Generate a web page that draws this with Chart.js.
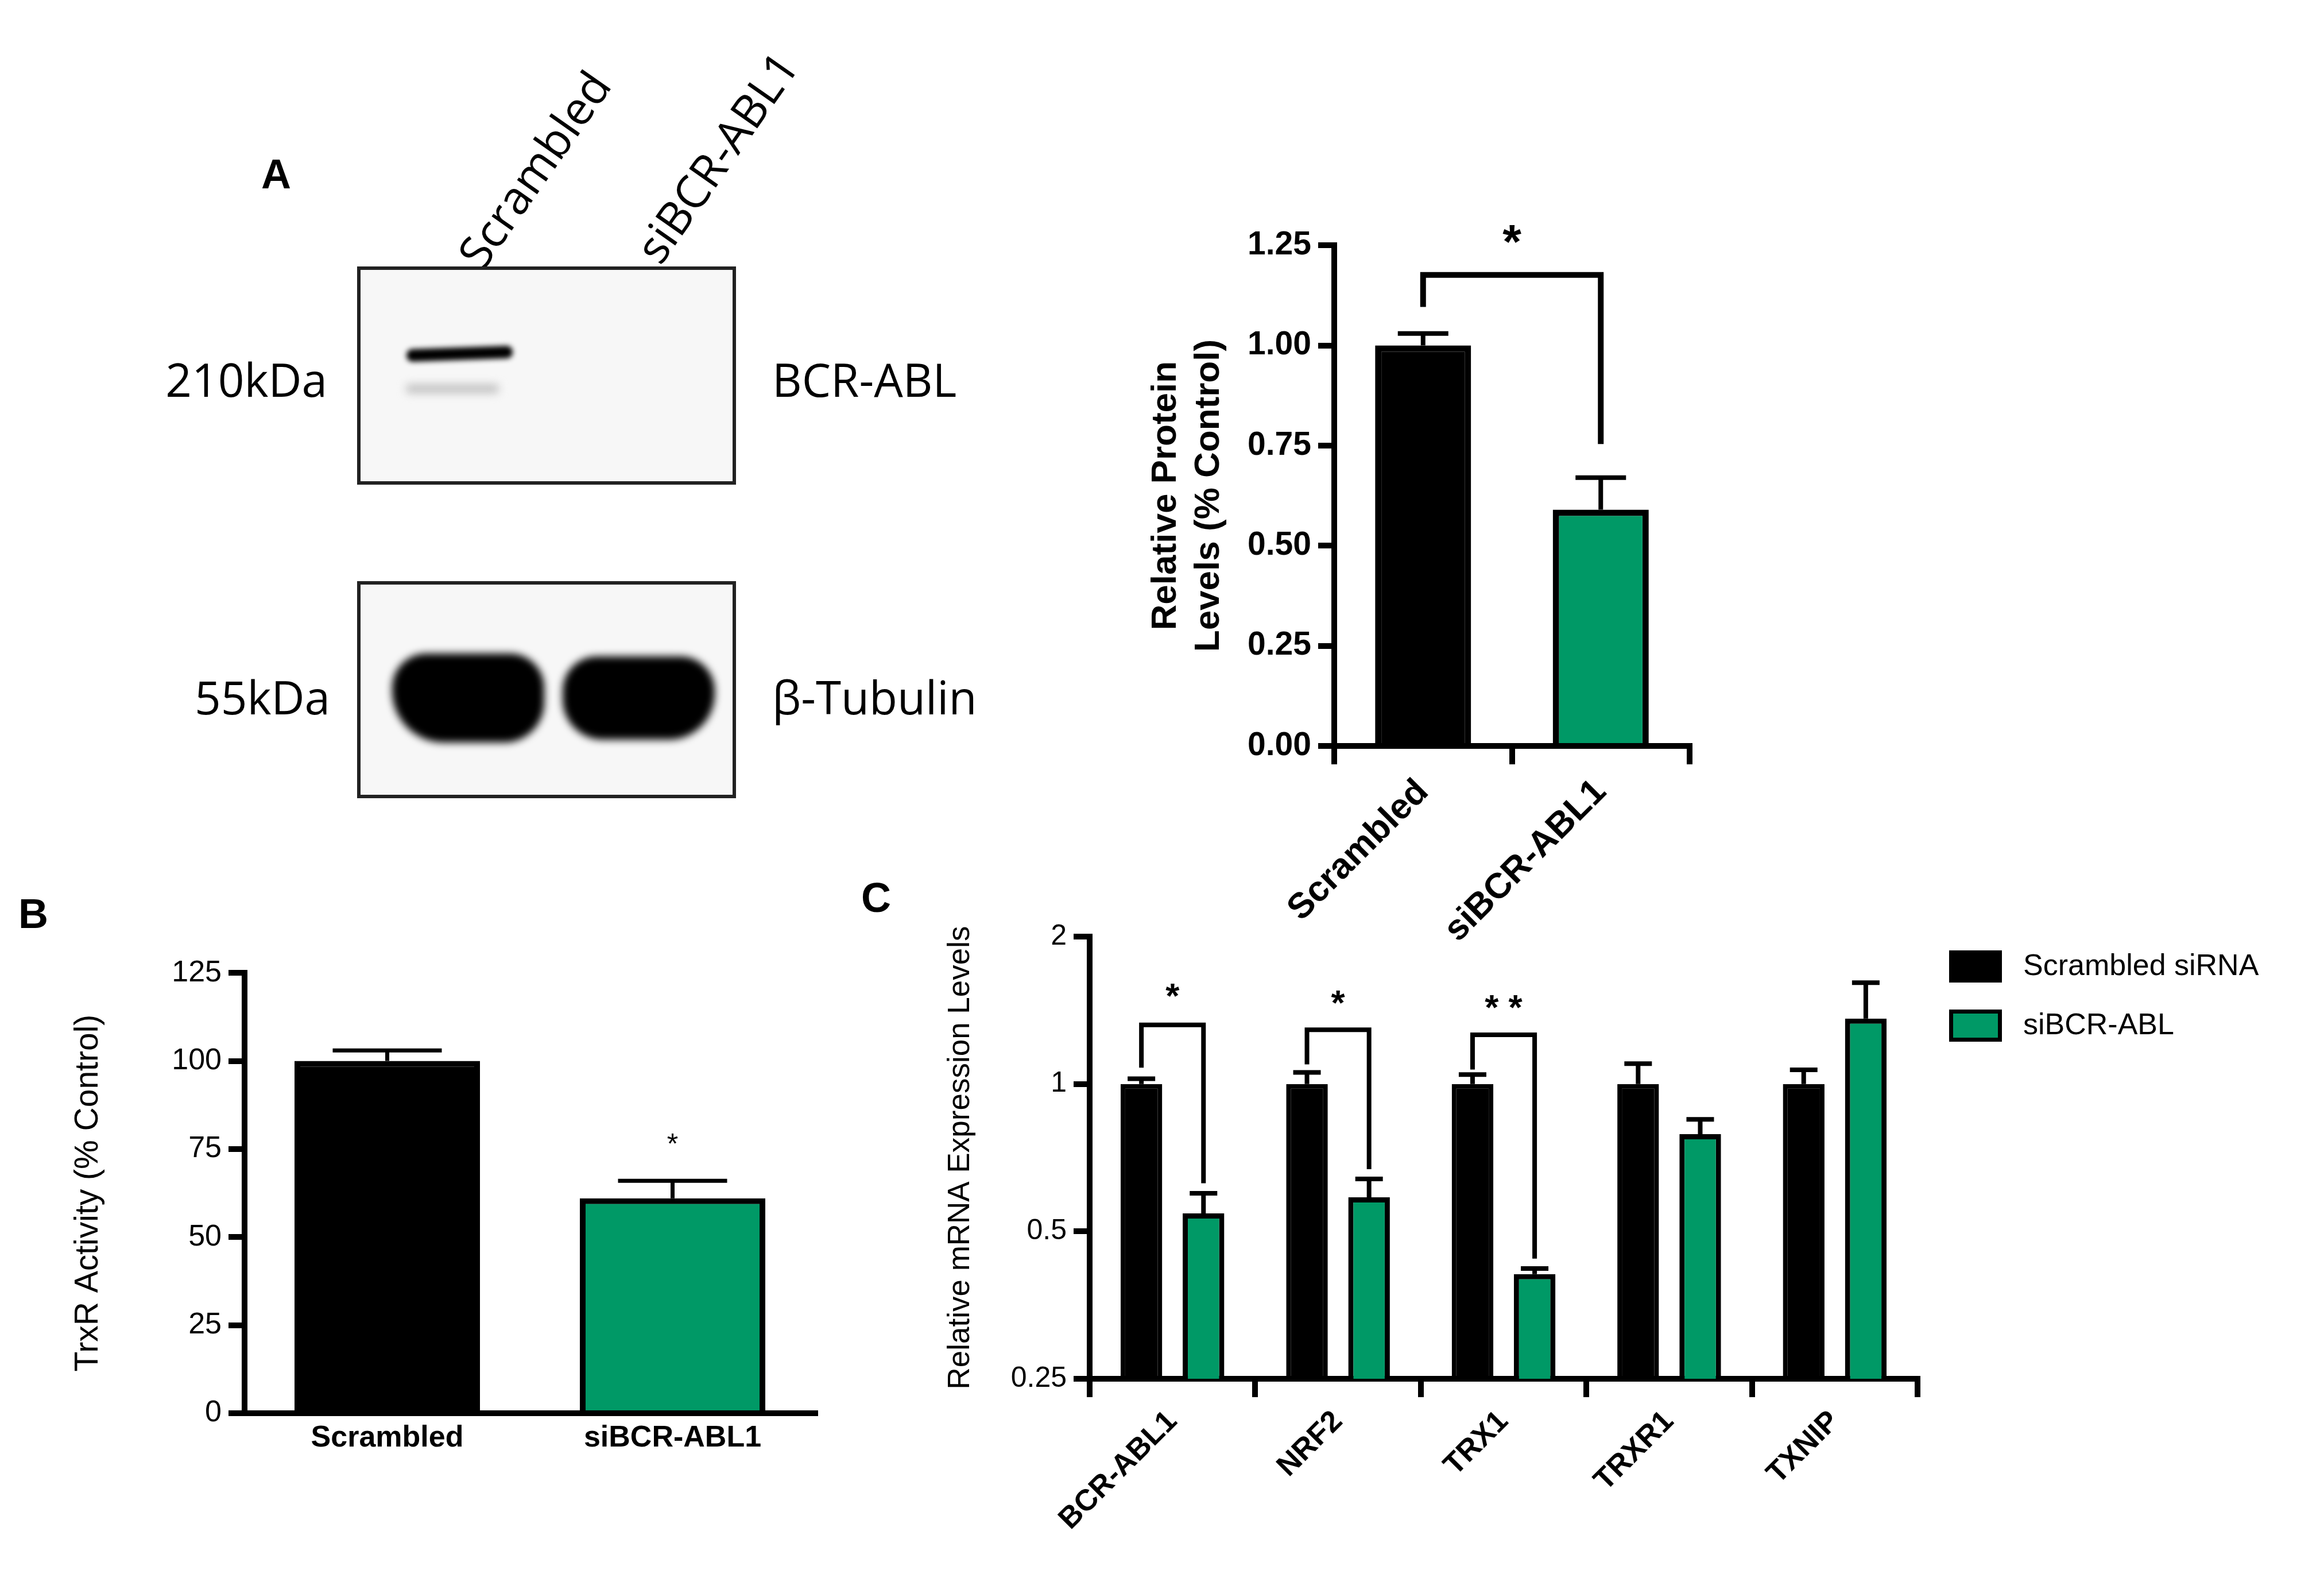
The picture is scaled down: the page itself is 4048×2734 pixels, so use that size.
<!DOCTYPE html>
<html><head><meta charset="utf-8">
<script src="https://cdn.jsdelivr.net/npm/chart.js@4.4.0/dist/chart.umd.min.js"></script>
<style>
body{margin:0;background:#fff;width:4048px;height:2734px;position:relative;overflow:hidden;font-family:"Liberation Sans",Arial,sans-serif}
.abs{position:absolute}
.lbl{position:absolute;font-family:"Open Sans","Noto Sans",sans-serif;font-size:80px;color:#000;white-space:nowrap}
.letter{position:absolute;font-family:"Liberation Sans";font-weight:bold;font-size:72px}
.box{position:absolute;border:6px solid #222;background:#f7f7f7;overflow:hidden}
.blur{position:absolute;background:#000;filter:blur(5px)}
.leg{position:absolute;font-size:52px;font-family:"Liberation Sans"}
.sw{position:absolute;width:78px;height:42px;border:7px solid #000}
</style></head><body>
<div class="letter" style="left:455px;top:262px">A</div>
<div class="letter" style="left:32px;top:1550px">B</div>
<div class="letter" style="left:1500px;top:1522px">C</div>
<div class="lbl" style="left:770px;top:425px;transform:rotate(-55deg);transform-origin:0 0;">Scrambled</div>
<div class="lbl" style="left:1080px;top:415px;transform:rotate(-55deg);transform-origin:0 0;">siBCR-ABL1</div>
<div class="lbl" style="right:3478px;top:605px">210kDa</div>
<div class="lbl" style="left:1345px;top:605px">BCR-ABL</div>
<div class="lbl" style="right:3473px;top:1158px">55kDa</div>
<div class="lbl" style="left:1345px;top:1158px">β-Tubulin</div>
<div class="box" style="left:622px;top:464px;width:648px;height:368px">
  <div class="blur" style="left:80px;top:135px;width:185px;height:22px;border-radius:10px;transform:rotate(-2deg)"></div>
  <div class="blur" style="left:80px;top:200px;width:160px;height:14px;background:#bbb;filter:blur(8px)"></div>
</div>
<div class="box" style="left:622px;top:1012px;width:648px;height:366px">
  <div class="blur" style="left:55px;top:120px;width:265px;height:155px;border-radius:60px 60px 70px 90px;filter:blur(7px)"></div>
  <div class="blur" style="left:352px;top:125px;width:265px;height:145px;border-radius:60px 60px 80px 70px;filter:blur(7px)"></div>
</div>
<div class="abs" style="left:1990px;top:381px;width:973px;height:1258px"><canvas id="cA"></canvas></div>
<div class="abs" style="left:116px;top:1651px;width:1324px;height:920px"><canvas id="cB"></canvas></div>
<div class="abs" style="left:1638px;top:1589px;width:1722px;height:1112px"><canvas id="cC"></canvas></div>
<div class="sw" style="left:3395px;top:1655px;background:#000"></div>
<div class="leg" style="left:3524px;top:1650px">Scrambled siRNA</div>
<div class="sw" style="left:3395px;top:1758px;background:#009966"></div>
<div class="leg" style="left:3524px;top:1753px">siBCR-ABL</div>
<script>
const catA=['Scrambled','siBCR-ABL1'];
const valA=[1.00,0.59];
const errA=[0.03,0.08];
const catB=['Scrambled','siBCR-ABL1'];
const valB=[100,61];
const errB=[3,5];
const genes=['BCR-ABL1','NRF2','TRX1','TRXR1','TXNIP'];
const scr=[1,1,1,1,1];
const scrErr=[0.025,0.056,0.045,0.10,0.069];
const si=[0.544,0.587,0.409,0.79,1.36];
const siErr=[0.054,0.053,0.011,0.057,0.25];
const ticksA=[0,0.25,0.5,0.75,1.0,1.25];
const ticksC=[0.25,0.5,1,2];
const GREEN='#009966';
Chart.defaults.font.family='"Liberation Sans", Arial, sans-serif';
Chart.defaults.color='#000';

const errPlugin={id:'errbars',afterDatasetsDraw(ch,a,o){
  const ctx=ch.ctx;const ys=ch.scales.y;
  ch.data.datasets.forEach((ds,di)=>{
    const meta=ch.getDatasetMeta(di);
    meta.data.forEach((el,i)=>{
      const v=ds.data[i], e=ds.errors[i];
      const yTop=el.y, yE=ys.getPixelForValue(v+e);
      ctx.save();ctx.strokeStyle='#000';ctx.lineWidth=o.lw;
      ctx.beginPath();ctx.moveTo(el.x,yTop);ctx.lineTo(el.x,yE);
      ctx.moveTo(el.x-o.cap,yE);ctx.lineTo(el.x+o.cap,yE);ctx.stroke();ctx.restore();
    });
  });
}};
const sigPlugin={id:'sig',afterDatasetsDraw(ch,a,o){
  const ctx=ch.ctx;const ys=ch.scales.y;
  (o.items||[]).forEach(it=>{
    const xa=ch.getDatasetMeta(it.a[0]).data[it.a[1]].x;
    const xb=ch.getDatasetMeta(it.b[0]).data[it.b[1]].x;
    ctx.save();ctx.strokeStyle='#000';ctx.lineWidth=o.lw;
    if(it.yt!=null){
      ctx.beginPath();ctx.moveTo(xa,ys.getPixelForValue(it.yl));ctx.lineTo(xa,ys.getPixelForValue(it.yt));
      ctx.lineTo(xb,ys.getPixelForValue(it.yt));ctx.lineTo(xb,ys.getPixelForValue(it.yr));ctx.stroke();
    }
    ctx.fillStyle='#000';ctx.font=o.font;ctx.textAlign='center';ctx.textBaseline='middle';
    ctx.fillText(it.text,(xa+xb)/2,ys.getPixelForValue(it.ty));
    ctx.restore();
  });
}};
function xAxis(fontSize,bold,h,ticks,rot){
  return {type:'category',offset:true,
    grid:{display:true,drawOnChartArea:false,drawTicks:ticks,tickLength:ticks?32:0,color:'#000',lineWidth:10},
    border:{color:'#000',width:10},
    ticks:{font:{size:fontSize,weight:bold?'bold':'normal'},maxRotation:rot,minRotation:rot,padding:12,color:'#000'},
    afterFit(s){s.height=h;}};
}
function yGrid(){return {display:true,drawOnChartArea:false,drawTicks:true,tickLength:28,color:'#000',lineWidth:10};}

new Chart(document.getElementById('cA'),{type:'bar',
  data:{labels:catA,datasets:[{data:valA,errors:errA,backgroundColor:['#000',GREEN],borderColor:'#000',borderWidth:11,barPercentage:0.54,categoryPercentage:1}]},
  options:{responsive:true,maintainAspectRatio:false,animation:false,devicePixelRatio:1,
    layout:{padding:{top:40,right:20}},
    plugins:{legend:{display:false},tooltip:{enabled:false},
      errbars:{lw:8,cap:44},
      sig:{lw:10,font:'bold 84px "Liberation Sans"',items:[{a:[0,0],b:[0,1],yl:1.096,yt:1.176,yr:0.754,text:'*',ty:1.25}]}},
    scales:{x:xAxis(62,true,340,true,45),
      y:{min:0,max:1.25,grid:yGrid(),border:{color:'#000',width:10},
        afterBuildTicks(s){s.ticks=ticksA.map(v=>({value:v}));},
        ticks:{font:{size:57,weight:'bold'},padding:12,callback:v=>Number(v).toFixed(2)},
        title:{display:true,text:['Relative Protein','Levels (% Control)'],font:{size:62,weight:'bold'},padding:{bottom:6}},
        afterFit(s){s.width=334;}}}},
  plugins:[errPlugin,sigPlugin]});

new Chart(document.getElementById('cB'),{type:'bar',
  data:{labels:catB,datasets:[{data:valB,errors:errB,backgroundColor:['#000',GREEN],borderColor:'#000',borderWidth:10,barPercentage:0.65,categoryPercentage:1}]},
  options:{responsive:true,maintainAspectRatio:false,animation:false,devicePixelRatio:1,
    layout:{padding:{top:40,right:20}},
    plugins:{legend:{display:false},tooltip:{enabled:false},
      errbars:{lw:7,cap:95},
      sig:{lw:7,font:'50px "Liberation Sans"',items:[{a:[0,1],b:[0,1],text:'*',ty:76}]}},
    scales:{x:xAxis(52,true,110,false,0),
      y:{min:0,max:125,grid:yGrid(),border:{color:'#000',width:10},
        ticks:{stepSize:25,font:{size:52},padding:12},
        title:{display:true,text:'TrxR Activity (% Control)',font:{size:57},padding:{bottom:10}},
        afterFit(s){s.width=310;}}}},
  plugins:[errPlugin,sigPlugin]});

new Chart(document.getElementById('cC'),{type:'bar',
  data:{labels:genes,datasets:[
    {data:scr,errors:scrErr,backgroundColor:'#000',borderColor:'#000',borderWidth:8,barPercentage:0.67,categoryPercentage:0.75},
    {data:si,errors:siErr,backgroundColor:GREEN,borderColor:'#000',borderWidth:9,barPercentage:0.67,categoryPercentage:0.75}]},
  options:{responsive:true,maintainAspectRatio:false,animation:false,devicePixelRatio:1,
    layout:{padding:{top:40,right:20}},
    plugins:{legend:{display:false},tooltip:{enabled:false},
      errbars:{lw:8,cap:24},
      sig:{lw:8,font:'bold 62px "Liberation Sans"',items:[
        {a:[0,0],b:[1,0],yl:1.08,yt:1.32,yr:0.627,text:'*',ty:1.50},
        {a:[0,1],b:[1,1],yl:1.097,yt:1.29,yr:0.67,text:'*',ty:1.45},
        {a:[0,2],b:[1,2],yl:1.07,yt:1.26,yr:0.44,text:'* *',ty:1.42}]}},
    scales:{x:xAxis(52,true,300,true,45),
      y:{type:'logarithmic',min:0.25,max:2,grid:yGrid(),border:{color:'#000',width:10},
        afterBuildTicks(s){s.ticks=ticksC.map(v=>({value:v}));},
        ticks:{font:{size:50},padding:12,callback:v=>String(v)},
        title:{display:true,text:'Relative mRNA Expression Levels',font:{size:53},padding:{bottom:10}},
        afterFit(s){s.width=260;}}}},
  plugins:[errPlugin,sigPlugin]});
</script></body></html>
